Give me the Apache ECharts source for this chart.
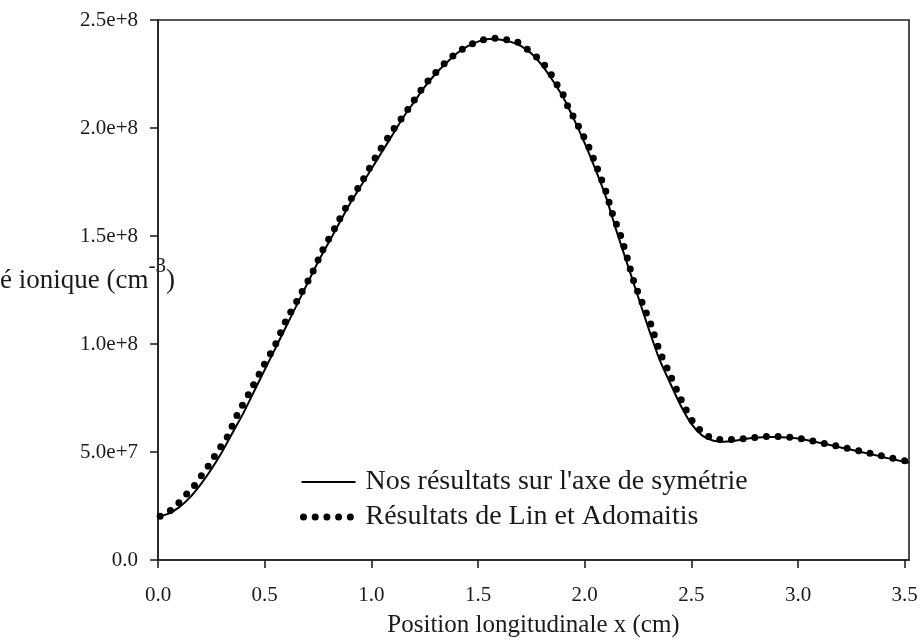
<!DOCTYPE html>
<html>
<head>
<meta charset="utf-8">
<script src="https://cdn.jsdelivr.net/npm/echarts@6/dist/echarts.min.js"></script>
<style>
html,body{margin:0;padding:0;background:#fff;}
#chart{width:921px;height:643px;}
</style>
</head>
<body>
<div id="chart"></div>
<script>
// ---- data (x in cm, density in units of 1e8 cm^-3) ----
const seriesNames = ["Nos résultats sur l'axe de symétrie", "Résultats de Lin et Adomaitis"];
const xTickValues = [0, 0.5, 1.0, 1.5, 2.0, 2.5, 3.0, 3.5];

const xNos = [0.00,0.05,0.10,0.15,0.20,0.25,0.30,0.35,0.40,0.45,0.50,0.55,0.60,0.65,0.70,0.75,0.80,0.85,0.90,0.95,1.00,1.05,1.10,1.15,1.20,1.25,1.30,1.35,1.40,1.45,1.50,1.55,1.60,1.65,1.70,1.75,1.80,1.85,1.90,1.95,2.00,2.05,2.10,2.15,2.20,2.25,2.30,2.35,2.40,2.45,2.50,2.55,2.60,2.65,2.70,2.75,2.80,2.85,2.90,2.95,3.00,3.05,3.10,3.15,3.20,3.25,3.30,3.35,3.40,3.45,3.52];
const yNos = [0.199,0.215,0.245,0.29,0.35,0.42,0.50,0.59,0.68,0.78,0.88,0.98,1.08,1.18,1.28,1.38,1.47,1.56,1.65,1.73,1.81,1.89,1.97,2.05,2.12,2.19,2.25,2.30,2.345,2.378,2.40,2.412,2.41,2.40,2.38,2.345,2.29,2.22,2.14,2.04,1.93,1.81,1.68,1.52,1.37,1.22,1.07,0.93,0.82,0.715,0.63,0.577,0.553,0.548,0.552,0.560,0.566,0.570,0.570,0.567,0.562,0.553,0.543,0.532,0.521,0.510,0.499,0.488,0.476,0.465,0.450];

const xLin = [0.01,0.07,0.12,0.17,0.21,0.25,0.28,0.32,0.37,0.43,0.49,0.55,0.60,0.66,0.72,0.77,0.83,0.89,0.96,1.02,1.09,1.17,1.25,1.30,1.345,1.40,1.455,1.51,1.565,1.62,1.68,1.73,1.78,1.83,1.86,1.895,1.92,1.97,2.02,2.06,2.10,2.13,2.17,2.20,2.23,2.27,2.31,2.35,2.39,2.43,2.47,2.51,2.56,2.61,2.66,2.72,2.775,2.83,2.885,2.94,2.995,3.05,3.10,3.16,3.21,3.27,3.33,3.385,3.44,3.52];
const yLin = [0.202,0.237,0.290,0.344,0.400,0.455,0.506,0.561,0.669,0.777,0.890,0.997,1.108,1.215,1.323,1.431,1.539,1.648,1.758,1.866,1.974,2.084,2.200,2.255,2.301,2.347,2.381,2.405,2.416,2.411,2.400,2.365,2.324,2.270,2.216,2.163,2.102,2.010,1.910,1.811,1.704,1.604,1.497,1.397,1.290,1.190,1.091,0.970,0.880,0.790,0.705,0.635,0.585,0.559,0.558,0.559,0.565,0.570,0.573,0.570,0.564,0.555,0.544,0.533,0.521,0.509,0.496,0.484,0.472,0.455];

const UNIT = 1e8;
const FONT = '"Liberation Serif", "Times New Roman", serif';
const INK = '#1a1a1a';
const DOTS = [0, 11.7];

const nosData = xNos.map((x, i) => [x, yNos[i] * UNIT]);
const linData = xLin.map((x, i) => [x, yLin[i] * UNIT]);

const chart = echarts.init(document.getElementById('chart'), null, {renderer: 'canvas'});
chart.setOption({
  animation: false,
  backgroundColor: '#ffffff',
  color: ['#000', '#000'],
  grid: {left: 158, right: 12, top: 20, bottom: 79, show: true, borderColor: '#222', borderWidth: 1.6, containLabel: false},
  xAxis: {
    type: 'value', min: 0, max: 3.52, interval: 0.5,
    name: 'Position longitudinale x (cm)', nameLocation: 'middle', nameGap: 53,
    nameTextStyle: {fontFamily: FONT, fontSize: 25, color: INK},
    axisLine: {show: true, lineStyle: {color: '#222', width: 1.6}},
    axisTick: {show: true, length: 8, lineStyle: {color: '#222', width: 1.6}, customValues: xTickValues},
    axisLabel: {fontFamily: FONT, fontSize: 21, color: INK, margin: 25, customValues: xTickValues,
      formatter: v => v.toFixed(1)},
    splitLine: {show: false}
  },
  yAxis: {
    type: 'value', min: 0, max: 2.5e8, interval: 0.5e8,
    axisLine: {show: true, lineStyle: {color: '#222', width: 1.6}},
    axisTick: {show: true, length: 8, lineStyle: {color: '#222', width: 1.6}},
    axisLabel: {fontFamily: FONT, fontSize: 21, color: INK, margin: 20,
      formatter: v => v === 0 ? '0.0' : v.toExponential(1)},
    splitLine: {show: false}
  },
  legend: {
    left: 298, top: 468, padding: 0, orient: 'vertical', itemWidth: 54, itemHeight: 14, itemGap: 7,
    textStyle: {fontFamily: FONT, fontSize: 28, color: INK, lineHeight: 28, padding: [0, 0, 0, 5]},
    data: [
      {name: seriesNames[0], itemStyle: {opacity: 0}, lineStyle: {color: '#000', width: 2, type: 'solid'}},
      {name: seriesNames[1], itemStyle: {opacity: 0}, lineStyle: {color: '#000', width: 7, type: DOTS, cap: 'round', dashOffset: -2}}
    ]
  },
  graphic: [{
    type: 'text', x: 175, y: 281,
    style: {
      text: '{m|Densité ionique (cm}{s|-3}{m|)}',
      align: 'right', verticalAlign: 'middle',
      rich: {
        m: {fontFamily: FONT, fontSize: 27, fill: INK},
        s: {fontFamily: FONT, fontSize: 21, fill: INK, padding: [0, 0, 30, 0]}
      }
    }
  }],
  series: [
    {
      name: seriesNames[0], type: 'line', data: nosData, symbol: 'none', smooth: 0.2,
      lineStyle: {color: '#000', width: 2}, z: 3
    },
    {
      name: seriesNames[1], type: 'line', data: linData, symbol: 'none', smooth: 0.2,
      lineStyle: {color: '#000', width: 7, type: DOTS, cap: 'round'}, z: 2
    }
  ]
});
</script>
</body>
</html>
